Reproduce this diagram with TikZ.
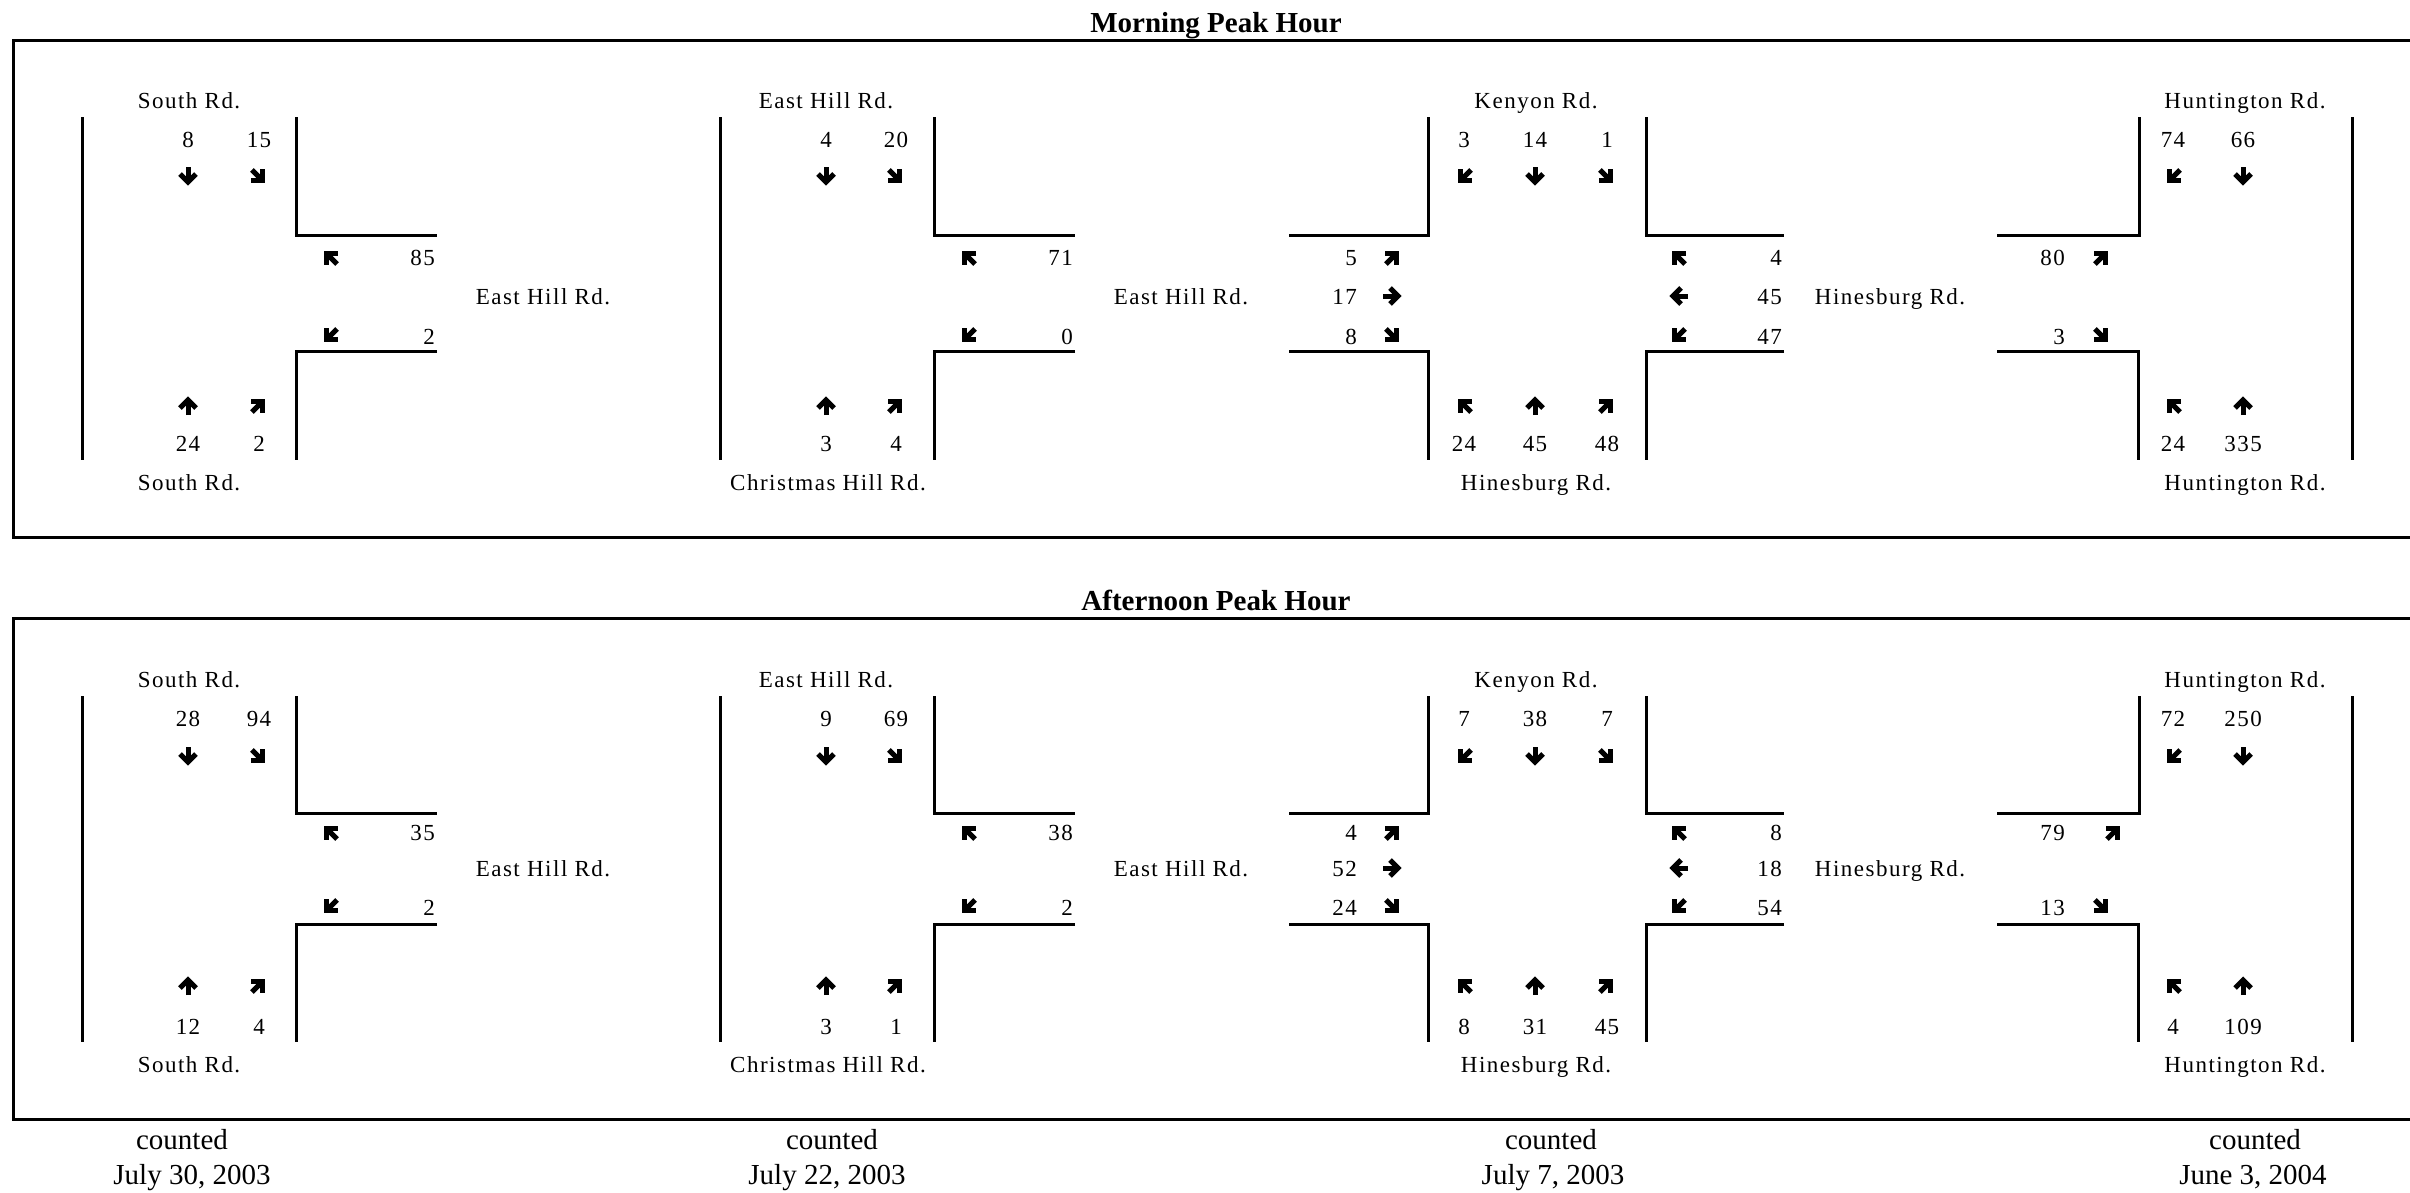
\documentclass[tikz,border=0pt]{standalone}
\usepackage{fontspec}
\setmainfont{Liberation Serif}
\newfontfamily\lblfont[LetterSpace=6.5]{Liberation Serif}
\newcounter{nd}
\tikzset{
  road/.style={line width=3pt, line join=miter},
  lab/.style={font=\lblfont\fontsize{23}{23}\selectfont, inner sep=0pt, anchor=base},
  labr/.style={lab, anchor=base east},
  ttl/.style={font=\bfseries\fontsize{29}{29}\selectfont, inner sep=0pt, anchor=base},
  foot/.style={font=\fontsize{29}{29}\selectfont, inner sep=0pt, anchor=base},
  astroke/.style={line width=5pt, line join=miter, miter limit=10},
  arw/.pic={\draw[astroke] (-10,0)--(3,0); \draw[astroke] (-3,-8)--(5,0)--(-3,8);}
}
\newcommand\Lbl[3]{\stepcounter{nd}\node[lab] (t\arabic{nd}) at ({#1},{#2+8}) {#3};}
\newcommand\Rgt[3]{\stepcounter{nd}\node[labr] (t\arabic{nd}) at ({#1},{#2+8}) {#3};}
\newcommand\Arr[3]{\pic[rotate=#3] at ({#1},{#2}) {arw};}
\newcommand\Roads[4]{%
  \draw[road] (82,#1)--(82,#4);
  \draw[road] (296,#1)--(296,#2)--(437,#2);
  \draw[road] (437,#3)--(296,#3)--(296,#4);
  \draw[road] (720,#1)--(720,#4);
  \draw[road] (934,#1)--(934,#2)--(1075,#2);
  \draw[road] (1075,#3)--(934,#3)--(934,#4);
  \draw[road] (1289,#2)--(1428,#2)--(1428,#1);
  \draw[road] (1289,#3)--(1428,#3)--(1428,#4);
  \draw[road] (1646,#1)--(1646,#2)--(1784,#2);
  \draw[road] (1784,#3)--(1646,#3)--(1646,#4);
  \draw[road] (1997,#2)--(2139,#2)--(2139,#1);
  \draw[road] (1997,#3)--(2138,#3)--(2138,#4);
  \draw[road] (2352,#1)--(2352,#4);
}
\newcommand\PanelCommon{%
  \Lbl{189}{\yLT}{South Rd.}\Lbl{189}{\yLB}{South Rd.}\Lbl{543}{\yMb}{East Hill Rd.}
  \Lbl{826}{\yLT}{East Hill Rd.}\Lbl{828}{\yLB}{Christmas Hill Rd.}\Lbl{1181}{\yMb}{East Hill Rd.}
  \Lbl{1536}{\yLT}{Kenyon Rd.}\Lbl{1536}{\yLB}{Hinesburg Rd.}\Lbl{1890}{\yMb}{Hinesburg Rd.}
  \Lbl{2245}{\yLT}{Huntington Rd.}\Lbl{2245}{\yLB}{Huntington Rd.}
  % intersection 1
  \Arr{188}{\yAT}{-90}\Arr{259}{\yAT}{-45}\Arr{330}{\yMa}{135}\Arr{330}{\yMc}{-135}\Arr{188}{\yAB}{90}\Arr{259}{\yAB}{45}
  % intersection 2
  \Arr{826}{\yAT}{-90}\Arr{896}{\yAT}{-45}\Arr{968}{\yMa}{135}\Arr{968}{\yMc}{-135}\Arr{826}{\yAB}{90}\Arr{896}{\yAB}{45}
  % intersection 3
  \Arr{1464}{\yAT}{-135}\Arr{1535}{\yAT}{-90}\Arr{1607}{\yAT}{-45}
  \Arr{1393}{\yMa}{45}\Arr{1393}{\yMb}{0}\Arr{1393}{\yMc}{-45}
  \Arr{1678}{\yMa}{135}\Arr{1678}{\yMb}{180}\Arr{1678}{\yMc}{-135}
  \Arr{1464}{\yAB}{135}\Arr{1535}{\yAB}{90}\Arr{1607}{\yAB}{45}
  % intersection 4
  \Arr{2173}{\yAT}{-135}\Arr{2243}{\yAT}{-90}
  \Arr{\xUR}{\yMa}{45}\Arr{2102}{\yMc}{-45}
  \Arr{2173}{\yAB}{135}\Arr{2243}{\yAB}{90}
}
\begin{document}
\begin{tikzpicture}[x=1pt,y=-1pt]
\useasboundingbox[fill=white] (0,0) rectangle (2410,1192);
% ---------- Morning ----------
\node[ttl] (tm) at (1216,32) {Morning Peak Hour};
\draw[road] (2415,40)--(13,40)--(13,537)--(2415,537);
\Roads{117}{235}{351}{460}
\def\yLT{100}\def\yNT{139}\def\yAT{177}\def\yMa{257}\def\yMb{296}\def\yMc{336}\def\yAB{405}\def\yNB{443}\def\yLB{482}\def\xUR{2102}
\PanelCommon
\Lbl{188}{\yNT}{8}\Lbl{259}{\yNT}{15}\Rgt{435}{\yMa}{85}\Rgt{435}{\yMc}{2}\Lbl{188}{\yNB}{24}\Lbl{259}{\yNB}{2}
\Lbl{826}{\yNT}{4}\Lbl{896}{\yNT}{20}\Rgt{1073}{\yMa}{71}\Rgt{1073}{\yMc}{0}\Lbl{826}{\yNB}{3}\Lbl{896}{\yNB}{4}
\Lbl{1464}{\yNT}{3}\Lbl{1535}{\yNT}{14}\Lbl{1607}{\yNT}{1}
\Rgt{1357}{\yMa}{5}\Rgt{1357}{\yMb}{17}\Rgt{1357}{\yMc}{8}
\Rgt{1782}{\yMa}{4}\Rgt{1782}{\yMb}{45}\Rgt{1782}{\yMc}{47}
\Lbl{1464}{\yNB}{24}\Lbl{1535}{\yNB}{45}\Lbl{1607}{\yNB}{48}
\Lbl{2173}{\yNT}{74}\Lbl{2243}{\yNT}{66}\Rgt{2065}{\yMa}{80}\Rgt{2065}{\yMc}{3}\Lbl{2173}{\yNB}{24}\Lbl{2243}{\yNB}{335}
% ---------- Afternoon ----------
\node[ttl] (ta) at (1216,610) {Afternoon Peak Hour};
\draw[road] (2415,618)--(13,618)--(13,1119)--(2415,1119);
\Roads{696}{813}{924}{1042}
\def\yLT{679}\def\yNT{718}\def\yAT{757}\def\yMa{832}\def\yMb{868}\def\yMc{907}\def\yAB{985}\def\yNB{1026}\def\yLB{1064}\def\xUR{2114}
\PanelCommon
\Lbl{188}{\yNT}{28}\Lbl{259}{\yNT}{94}\Rgt{435}{\yMa}{35}\Rgt{435}{\yMc}{2}\Lbl{188}{\yNB}{12}\Lbl{259}{\yNB}{4}
\Lbl{826}{\yNT}{9}\Lbl{896}{\yNT}{69}\Rgt{1073}{\yMa}{38}\Rgt{1073}{\yMc}{2}\Lbl{826}{\yNB}{3}\Lbl{896}{\yNB}{1}
\Lbl{1464}{\yNT}{7}\Lbl{1535}{\yNT}{38}\Lbl{1607}{\yNT}{7}
\Rgt{1357}{\yMa}{4}\Rgt{1357}{\yMb}{52}\Rgt{1357}{\yMc}{24}
\Rgt{1782}{\yMa}{8}\Rgt{1782}{\yMb}{18}\Rgt{1782}{\yMc}{54}
\Lbl{1464}{\yNB}{8}\Lbl{1535}{\yNB}{31}\Lbl{1607}{\yNB}{45}
\Lbl{2173}{\yNT}{72}\Lbl{2243}{\yNT}{250}\Rgt{2065}{\yMa}{79}\Rgt{2065}{\yMc}{13}\Lbl{2173}{\yNB}{4}\Lbl{2243}{\yNB}{109}
% ---------- footers ----------
\node[foot] (c1) at (182,1149) {counted};
\node[foot] (d1) at (192,1184) {July 30, 2003};
\node[foot] (c2) at (832,1149) {counted};
\node[foot] (d2) at (827,1184) {July 22, 2003};
\node[foot] (c3) at (1551,1149) {counted};
\node[foot] (d3) at (1553,1184) {July 7, 2003};
\node[foot] (c4) at (2255,1149) {counted};
\node[foot] (d4) at (2253,1184) {June 3, 2004};
\end{tikzpicture}
\end{document}
